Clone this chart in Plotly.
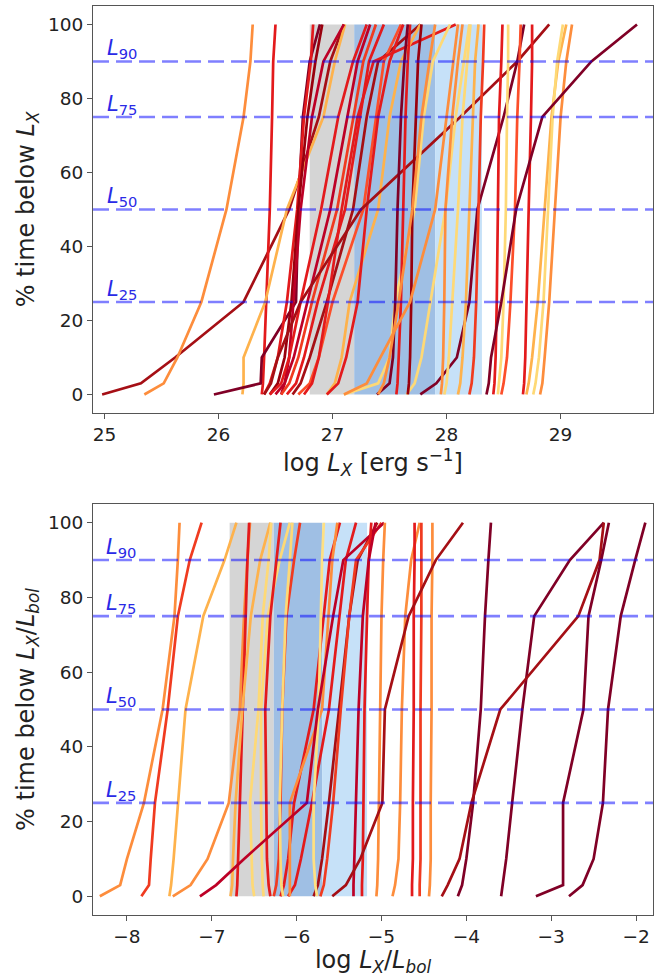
import plotly.graph_objects as go

# ---------------- data ----------------
Y_LEVELS = [0, 3, 10, 25, 50, 75, 90, 100]   # % time below
PERCENTILES = [25, 50, 75, 90]
X_TICKS_TOP = [25, 26, 27, 28, 29]
X_TICKS_BOT = [-8, -7, -6, -5, -4, -3, -2]
Y_TICKS = [0, 20, 40, 60, 80, 100]

# shaded bands (edges in data units)
TOP_BAND_EDGES = [26.80, 27.19, 27.90, 28.31]
BOT_BAND_EDGES = [-6.79, -6.27, -5.70, -5.17]

# top panel: log Lx at each Y level
TOP_X = [
    [24.98, 25.32, 25.62, 26.22, 26.62, 26.88, 26.98, 27.10],
    [25.35, 25.52, 25.64, 25.85, 26.07, 26.22, 26.28, 26.30],
    [26.38, 26.39, 26.40, 26.42, 26.45, 26.47, 26.48, 26.50],
    [26.21, 26.22, 26.22, 26.41, 26.60, 26.92, 27.02, 27.11],
    [25.96, 26.37, 26.38, 26.68, 26.70, 26.74, 26.80, 26.89],
    [26.40, 26.45, 26.52, 26.60, 26.69, 26.75, 26.81, 26.83],
    [26.45, 26.52, 26.58, 26.64, 26.70, 26.78, 26.85, 26.91],
    [26.55, 26.58, 26.62, 26.66, 26.72, 26.82, 26.92, 27.10],
    [26.45, 26.55, 26.62, 26.72, 26.90, 27.05, 27.18, 27.30],
    [26.50, 26.58, 26.66, 26.78, 26.98, 27.13, 27.22, 27.33],
    [26.55, 26.62, 26.70, 26.82, 27.04, 27.18, 27.27, 27.38],
    [26.60, 26.68, 26.75, 26.87, 27.11, 27.24, 27.32, 27.45],
    [26.65, 26.72, 26.80, 26.95, 27.18, 27.30, 27.40, 27.77],
    [26.70, 26.80, 26.88, 27.00, 27.27, 27.38, 27.45, 27.60],
    [26.75, 26.82, 26.88, 26.96, 27.08, 27.22, 27.36, 28.08],
    [26.95, 27.02, 27.08, 27.15, 27.40, 27.50, 27.60, 27.77],
    [26.95, 27.05, 27.12, 27.22, 27.30, 27.40, 27.50, 27.62],
    [26.40, 26.46, 26.52, 26.72, 27.25, 28.12, 28.62, 28.90],
    [27.10, 27.40, 27.50, 27.55, 27.72, 27.80, 27.88, 28.03],
    [27.65, 27.72, 27.78, 27.86, 27.99, 28.08, 28.15, 28.20],
    [27.77, 27.91, 28.09, 28.20, 28.27, 28.50, 28.62, 28.68],
    [27.66, 27.67, 27.68, 27.69, 27.70, 27.73, 27.75, 27.78],
    [27.56, 27.57, 27.58, 27.60, 27.62, 27.64, 27.66, 27.68],
    [27.39, 27.50, 27.53, 27.55, 27.57, 27.60, 27.63, 27.66],
    [27.40, 27.45, 27.50, 27.58, 27.70, 27.78, 27.85, 27.90],
    [27.10, 27.30, 27.42, 27.68, 27.90, 28.00, 28.06, 28.10],
    [27.95, 27.96, 27.97, 27.98, 27.99, 28.05, 28.10, 28.14],
    [27.98, 28.00, 28.02, 28.05, 28.10, 28.14, 28.18, 28.21],
    [28.10, 28.12, 28.14, 28.17, 28.20, 28.23, 28.25, 28.28],
    [28.20, 28.22, 28.24, 28.26, 28.28, 28.30, 28.32, 28.33],
    [28.41, 28.42, 28.43, 28.44, 28.45, 28.46, 28.48, 28.49],
    [28.45, 28.46, 28.48, 28.50, 28.52, 28.53, 28.54, 28.54],
    [28.48, 28.50, 28.53, 28.56, 28.60, 28.62, 28.64, 28.65],
    [28.67, 28.68, 28.69, 28.70, 28.72, 28.74, 28.75, 28.75],
    [28.70, 28.72, 28.75, 28.80, 28.86, 28.92, 28.98, 29.05],
    [28.76, 28.78, 28.81, 28.85, 28.89, 28.93, 28.97, 29.02],
    [28.82, 28.84, 28.86, 28.90, 28.95, 29.00, 29.05, 29.10],
    [28.35, 28.37, 28.39, 28.48, 28.61, 28.84, 29.27, 29.67],
]
TOP_COLORS = [
    "#a50f15", "#fd8d3c", "#e31a1c", "#feb24c", "#800026", "#e31a1c", "#99000d", "#bd0026",
    "#e31a1c", "#bd0026", "#f03b20", "#e31a1c", "#a50f15", "#fc4e2a", "#e31a1c", "#feb24c",
    "#e31a1c", "#a50f15", "#fed976", "#fed976", "#800026", "#99000d", "#e31a1c", "#800026",
    "#fd8d3c", "#fd8d3c", "#fd8d3c", "#fed976", "#feb24c", "#f03b20", "#e31a1c", "#fed976",
    "#fc4e2a", "#e31a1c", "#feb24c", "#fed976", "#fd8d3c", "#800026",
]

# bottom panel: log Lx/Lbol at each Y level
BOT_X = [
    [-8.32, -8.08, -8.00, -7.80, -7.58, -7.44, -7.40, -7.38],
    [-7.83, -7.74, -7.72, -7.67, -7.52, -7.40, -7.26, -7.12],
    [-7.50, -7.48, -7.45, -7.40, -7.31, -7.10, -6.85, -6.71],
    [-7.46, -7.25, -7.05, -6.80, -6.67, -6.62, -6.58, -6.55],
    [-6.71, -6.70, -6.69, -6.67, -6.63, -6.60, -6.58, -6.56],
    [-6.78, -6.76, -6.75, -6.72, -6.64, -6.54, -6.43, -6.31],
    [-6.39, -6.40, -6.41, -6.42, -6.42, -6.34, -6.20, -6.08],
    [-6.31, -6.33, -6.35, -6.36, -6.37, -6.31, -6.24, -6.19],
    [-6.27, -6.24, -6.21, -6.19, -6.17, -6.12, -6.03, -5.96],
    [-6.19, -6.15, -6.10, -6.03, -5.80, -5.68, -5.61, -5.49],
    [-6.10, -6.02, -5.95, -5.82, -5.62, -5.50, -5.42, -5.30],
    [-5.80, -5.75, -5.70, -5.62, -5.50, -5.38, -5.28, -5.05],
    [-5.72, -5.68, -5.64, -5.57, -5.48, -5.38, -5.30, -5.00],
    [-6.08, -6.08, -6.08, -6.08, -5.70, -5.63, -5.58, -5.52],
    [-6.16, -6.18, -6.19, -6.20, -6.17, -6.13, -6.08, -6.05],
    [-6.50, -6.52, -6.53, -6.55, -6.45, -6.40, -6.33, -6.30],
    [-5.76, -5.78, -5.80, -5.80, -5.74, -5.72, -5.70, -5.68],
    [-7.14, -6.95, -6.62, -5.88, -5.75, -5.57, -5.45, -4.97],
    [-5.06, -5.05, -5.04, -5.03, -5.02, -5.00, -4.98, -4.96],
    [-5.23, -5.23, -5.22, -5.21, -5.20, -5.17, -5.15, -5.12],
    [-5.33, -5.33, -5.32, -5.30, -5.27, -5.22, -5.15, -5.07],
    [-4.87, -4.84, -4.80, -4.78, -4.76, -4.72, -4.65, -4.55],
    [-4.64, -4.64, -4.63, -4.63, -4.62, -4.62, -4.61, -4.61],
    [-4.55, -4.55, -4.54, -4.54, -4.54, -4.53, -4.53, -4.53],
    [-4.44, -4.43, -4.42, -4.42, -4.41, -4.41, -4.40, -4.40],
    [-5.58, -5.42, -5.25, -4.99, -4.96, -4.68, -4.36, -4.04],
    [-4.10, -4.05, -4.00, -3.92, -3.83, -3.78, -3.74, -3.71],
    [-3.59, -3.57, -3.53, -3.46, -3.34, -3.20, -2.78, -2.38],
    [-4.29, -4.22, -4.08, -3.94, -3.60, -2.68, -2.43, -2.38],
    [-3.18, -2.86, -2.86, -2.86, -2.62, -2.56, -2.41, -2.32],
    [-2.79, -2.63, -2.50, -2.39, -2.33, -2.18, -2.01, -1.89],
]
BOT_COLORS = [
    "#fd8d3c", "#f03b20", "#feb24c", "#fd8d3c", "#e31a1c", "#feb24c", "#fed976", "#e31a1c",
    "#f03b20", "#e31a1c", "#e31a1c", "#a50f15", "#f03b20", "#fd8d3c", "#fed976", "#fed976",
    "#ffe082", "#bd0026", "#fd8d3c", "#e31a1c", "#bd0026", "#fd8d3c", "#e31a1c", "#f03b20",
    "#fd8d3c", "#a50f15", "#800026", "#800026", "#a50f15", "#800026", "#800026",
]

# ---------------- figure ----------------
W, H = 663, 977
FONT = "DejaVu Sans"
BAND_COLORS = ["#d5d5d5", "#9fbfe4", "#c6e1f8"]
DASH_COLOR = "rgba(0,0,255,0.5)"
LABEL_COLOR = "#2a2ae6"
TITLE_SIZE = 24

fig = go.Figure()

for xs, c in zip(TOP_X, TOP_COLORS):
    fig.add_trace(go.Scatter(x=xs, y=Y_LEVELS, mode="lines", xaxis="x", yaxis="y",
                             line=dict(color=c, width=2.7), showlegend=False, hoverinfo="skip"))
for xs, c in zip(BOT_X, BOT_COLORS):
    fig.add_trace(go.Scatter(x=xs, y=Y_LEVELS, mode="lines", xaxis="x2", yaxis="y2",
                             line=dict(color=c, width=2.7), showlegend=False, hoverinfo="skip"))

shapes = []
annotations = []
for edges, xr, yr, xl in [(TOP_BAND_EDGES, "x", "y", 25.01), (BOT_BAND_EDGES, "x2", "y2", -8.26)]:
    for i in range(3):
        shapes.append(dict(type="rect", xref=xr, yref=yr, x0=edges[i], x1=edges[i + 1],
                           y0=0, y1=100, fillcolor=BAND_COLORS[i], line=dict(width=0),
                           layer="below"))
    for p in PERCENTILES:
        shapes.append(dict(type="line", xref=xr + " domain", yref=yr, x0=0, x1=1, y0=p, y1=p,
                           line=dict(color=DASH_COLOR, width=2.6, dash="16px,7px")))
        annotations.append(dict(xref=xr, yref=yr, x=xl, y=p, xanchor="left", yanchor="bottom",
                                text="<i>L</i><sub>%d</sub>" % p, showarrow=False,
                                font=dict(family=FONT, size=21, color=LABEL_COLOR),
                                borderpad=0, yshift=-2))

axis_common = dict(showgrid=False, zeroline=False, showline=True, mirror=True,
                   linecolor="#555555", linewidth=1.2, ticks="outside", ticklen=5,
                   tickwidth=1.2, tickcolor="#555555",
                   tickfont=dict(family=FONT, size=18.5, color="#222222"), automargin=False)

fig.update_layout(
    width=W, height=H,
    margin=dict(l=0, r=0, t=0, b=0),
    paper_bgcolor="white", plot_bgcolor="white",
    shapes=shapes, annotations=annotations,
    xaxis=dict(domain=[0.1403, 0.9849], anchor="y", range=[24.90, 29.81],
               tickvals=X_TICKS_TOP,
               title=dict(text="log <i>L<sub>X</sub></i> [erg s<sup>−1</sup>]",
                          font=dict(family=FONT, size=TITLE_SIZE, color="#222222"), standoff=4),
               **axis_common),
    yaxis=dict(domain=[0.5773, 0.9939], anchor="x", range=[-5, 105], tickvals=Y_TICKS,
               title=dict(text="% time below <i>L<sub>X</sub></i>",
                          font=dict(family=FONT, size=TITLE_SIZE, color="#222222"), standoff=6),
               **axis_common),
    xaxis2=dict(domain=[0.1403, 0.9849], anchor="y2", range=[-8.40, -1.80],
                tickvals=X_TICKS_BOT,
                title=dict(text="log <i>L<sub>X</sub></i>/<i>L<sub>bol</sub></i>",
                           font=dict(family=FONT, size=TITLE_SIZE, color="#222222"), standoff=4),
                **axis_common),
    yaxis2=dict(domain=[0.0635, 0.4841], anchor="x2", range=[-5, 105], tickvals=Y_TICKS,
                title=dict(text="% time below <i>L<sub>X</sub></i>/<i>L<sub>bol</sub></i>",
                           font=dict(family=FONT, size=TITLE_SIZE, color="#222222"), standoff=6),
                **axis_common),
)

fig.write_html("out.html")
